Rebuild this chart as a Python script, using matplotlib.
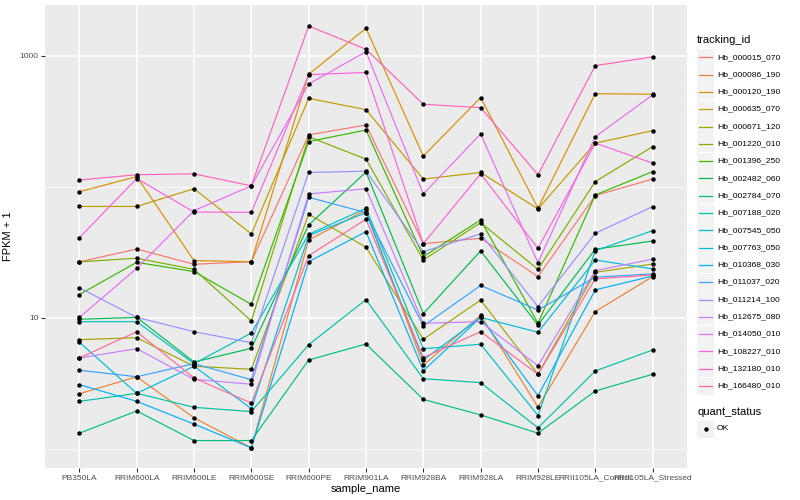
import numpy as np
import matplotlib.pyplot as plt
from matplotlib.patches import Rectangle
from matplotlib.lines import Line2D
from matplotlib.ticker import NullFormatter

plt.rcParams['font.family'] = ['Liberation Sans', 'DejaVu Sans']

samples = ['PB350LA', 'RRIM600LA', 'RRIM600LE', 'RRIM600SE', 'RRIM600PE', 'RRIM901LA',
           'RRIM928BA', 'RRIM928LA', 'RRIM928LE', 'RRII105LA_Control', 'RRII105LA_Stressed']

tracking_ids = ['Hb_000015_070', 'Hb_000086_190', 'Hb_000120_190', 'Hb_000635_070',
                'Hb_000671_120', 'Hb_001220_010', 'Hb_001396_250', 'Hb_002482_060',
                'Hb_002784_070', 'Hb_007188_020', 'Hb_007545_050', 'Hb_007763_050',
                'Hb_010368_030', 'Hb_011037_020', 'Hb_011214_100', 'Hb_012675_080',
                'Hb_014050_010', 'Hb_108227_010', 'Hb_132180_010', 'Hb_166480_010']

# FPKM + 1, one list per gene, in sample order
hb_000015_070 = [26.8, 33.6, 25.7, 26.9, 250, 297, 36.9, 40.6, 20.7, 85.9, 115]
hb_000086_190 = [2.64, 3.56, 1.73, 1.02, 39.4, 66.7, 4.35, 10.5, 2.09, 11.2, 20.7]
hb_000120_190 = [92, 120, 27.4, 26.9, 725, 1627, 172, 481, 69, 515, 510]
hb_000635_070 = [71, 71, 97, 43.8, 475, 389, 115, 129, 68, 216, 269]
hb_000671_120 = [6.83, 7.07, 4.28, 4.06, 61.9, 34.7, 6.88, 13.7, 3.72, 22.3, 25.8]
hb_001220_010 = [26.8, 28.6, 23.5, 9.49, 242, 163, 27.7, 53.4, 23.5, 110, 203]
hb_001396_250 = [15.1, 26.6, 22.6, 12.7, 222, 272, 29.4, 56, 9.11, 86.9, 131]
hb_002482_060 = [9.78, 10.1, 4.61, 5.87, 51.3, 130, 10.8, 32.5, 8.84, 33.5, 38.7]
hb_002784_070 = [1.32, 1.95, 1.16, 1.16, 4.78, 6.33, 2.39, 1.82, 1.32, 2.77, 3.72]
hb_007188_020 = [2.31, 2.66, 2.08, 1.93, 6.25, 13.8, 3.44, 3.21, 1.45, 3.94, 5.70]
hb_007545_050 = [9.37, 9.37, 4.48, 7.68, 43.5, 68.8, 5.83, 6.3, 1.80, 32.6, 46.4]
hb_007763_050 = [6.53, 2.66, 4.28, 2.03, 42.5, 63.7, 4.78, 10.1, 7.78, 27.7, 23.7]
hb_010368_030 = [3.10, 2.31, 1.55, 1.02, 26.9, 45.6, 3.96, 10.1, 2.55, 16.4, 20.9]
hb_011037_020 = [3.99, 3.56, 4.48, 3.38, 83.4, 63.7, 8.69, 17.7, 11.5, 20.5, 21.7]
hb_011214_100 = [17, 10.1, 7.86, 6.48, 129, 132, 32.1, 43.8, 12.2, 44.3, 70.8]
hb_012675_080 = [4.95, 5.83, 3.40, 3.12, 88.4, 97, 9.11, 9.37, 4.32, 23, 28.1]
hb_014050_010 = [10.1, 23.9, 66, 102, 611, 1078, 88.4, 254, 26.4, 242, 504]
hb_108227_010 = [41, 116, 64.4, 64, 720, 748, 36.9, 126, 34, 216, 152]
hb_132180_010 = [113, 124, 126, 102, 1694, 1125, 428, 403, 124, 844, 983]
hb_166480_010 = [4.95, 7.86, 3.48, 2.24, 29.9, 56.7, 4.99, 7.86, 3.72, 19.9, 21.3]

series = [hb_000015_070, hb_000086_190, hb_000120_190, hb_000635_070, hb_000671_120,
          hb_001220_010, hb_001396_250, hb_002482_060, hb_002784_070, hb_007188_020,
          hb_007545_050, hb_007763_050, hb_010368_030, hb_011037_020, hb_011214_100,
          hb_012675_080, hb_014050_010, hb_108227_010, hb_132180_010, hb_166480_010]


def hcl_to_hex(h, c=100.0, l=65.0):
    """ggplot2 style hue -> sRGB hex (polar LUV, D65)"""
    hr = np.deg2rad(h)
    U, V = c * np.cos(hr), c * np.sin(hr)
    Y = ((l + 16) / 116) ** 3 if l > 8 else l / 903.3
    Xn, Yn, Zn = 0.95047, 1.0, 1.08883
    un = 4 * Xn / (Xn + 15 * Yn + 3 * Zn)
    vn = 9 * Yn / (Xn + 15 * Yn + 3 * Zn)
    u = U / (13 * l) + un
    v = V / (13 * l) + vn
    X = 9.0 * Y * u / (4 * v)
    Z = -X / 3 - 5 * Y + 3 * Y / v
    M = np.array([[3.240479, -1.537150, -0.498535],
                  [-0.969256, 1.875992, 0.041556],
                  [0.055648, -0.204043, 1.057311]])
    rgb = M @ np.array([X, Y, Z])
    rgb = np.where(rgb > 0.00304, 1.055 * np.power(np.clip(rgb, 0, None), 1 / 2.4) - 0.055, 12.92 * rgb)
    rgb = np.clip(rgb, 0, 1)
    return '#%02X%02X%02X' % tuple(int(round(x * 255)) for x in rgb)


n = len(tracking_ids)
hues = np.linspace(15, 375, n + 1)[:n]
colors = [hcl_to_hex(h) for h in hues]

fig = plt.figure(figsize=(8, 5), dpi=100)
ax = fig.add_axes([45 / 800, 32 / 500, 642 / 800, 463 / 500])
ax.set_facecolor('#EBEBEB')
for s in ax.spines.values():
    s.set_visible(False)

x = np.arange(len(samples))
for vals, col in zip(series, colors):
    ax.plot(x, vals, color=col, linewidth=0.85, zorder=2)
for vals in series:
    ax.plot(x, vals, linestyle='none', marker='o', markersize=2.2,
            color='black', zorder=3)

ax.set_yscale('log')
ax.set_ylim(0.716, 2449)
ax.set_xlim(-0.6, 10.6)
ax.set_yticks([10, 1000])
ax.set_yticklabels(['10', '1000'])
ax.set_yticks([1, 100], minor=True)
ax.yaxis.set_minor_formatter(NullFormatter())
ax.set_xticks(x)
ax.set_xticklabels(samples)
ax.grid(which='major', color='white', linewidth=1.1)
ax.grid(which='minor', axis='y', color='white', linewidth=0.55)
ax.set_axisbelow(True)
ax.tick_params(axis='both', which='major', length=2.7, color='#333333',
               labelsize=6, labelcolor='#4D4D4D', pad=2)
ax.tick_params(axis='y', which='minor', length=0)
ax.set_xlabel('sample_name', fontsize=8, labelpad=2)
ax.set_ylabel('FPKM + 1', fontsize=8, labelpad=5)

# legend drawn by hand, ggplot style keys
def fx(px):
    return px / 800


def fy(py):
    return 1 - py / 500


fig.text(fx(697), fy(40), 'tracking_id', fontsize=8, va='center', ha='left')
for i, (name, col) in enumerate(zip(tracking_ids, colors)):
    yc = 57.3 + 17.3 * i
    fig.add_artist(Rectangle((fx(697), fy(yc + 8.5)), fx(17), 17 / 500,
                             facecolor='#F2F2F2', edgecolor='none'))
    fig.add_artist(Line2D([fx(699), fx(712)], [fy(yc), fy(yc)], color=col, linewidth=0.9))
    fig.text(fx(717), fy(yc), name, fontsize=6.1, va='center', ha='left')

fig.text(fx(697), fy(412), 'quant_status', fontsize=8, va='center', ha='left')
fig.add_artist(Rectangle((fx(697), fy(429 + 8.5)), fx(17), 17 / 500,
                         facecolor='#F2F2F2', edgecolor='none'))
fig.add_artist(Line2D([fx(705.5)], [fy(429)], marker='o', markersize=2.2, color='black'))
fig.text(fx(717), fy(429), 'OK', fontsize=6.1, va='center', ha='left')

fig.savefig('out.png', dpi=100)
